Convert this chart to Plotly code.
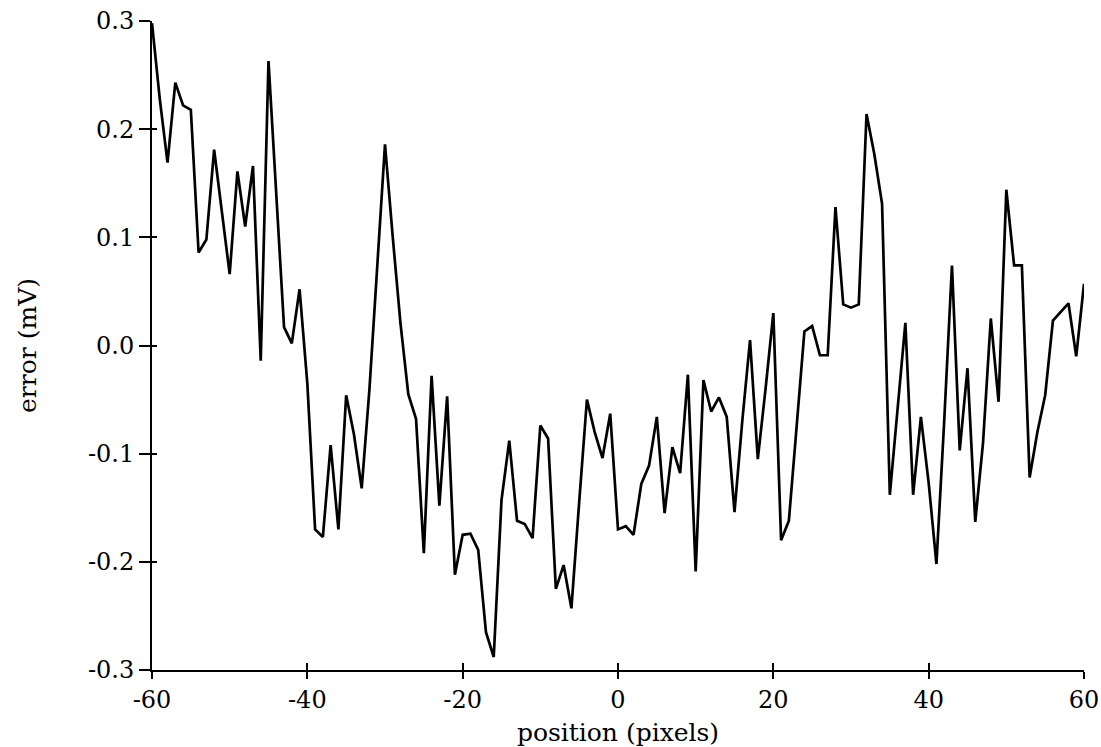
import plotly.graph_objects as go

positions = list(range(-60, 61))
errors = [
    0.298, 0.228, 0.169, 0.243, 0.222, 0.218, 0.086, 0.098, 0.181, 0.125,   # -60..-51
    0.066, 0.161, 0.110, 0.166, -0.014, 0.263, 0.140, 0.017, 0.002, 0.052,  # -50..-41
    -0.035, -0.170, -0.177, -0.092, -0.170, -0.046, -0.082, -0.132, -0.040, 0.075,  # -40..-31
    0.186, 0.100, 0.020, -0.045, -0.068, -0.192, -0.028, -0.148, -0.047, -0.212,  # -30..-21
    -0.175, -0.174, -0.189, -0.265, -0.288, -0.143, -0.088, -0.162, -0.165, -0.178,  # -20..-11
    -0.074, -0.086, -0.225, -0.203, -0.243, -0.145, -0.050, -0.080, -0.104, -0.063,  # -10..-1
    -0.170, -0.167, -0.175, -0.128, -0.111, -0.066, -0.155, -0.094, -0.118, -0.027,  # 0..9
    -0.209, -0.032, -0.061, -0.048, -0.066, -0.154, -0.070, 0.005, -0.105, -0.040,  # 10..19
    0.030, -0.180, -0.162, -0.075, 0.013, 0.018, -0.009, -0.009, 0.128, 0.038,  # 20..29
    0.035, 0.038, 0.214, 0.177, 0.131, -0.138, -0.055, 0.021, -0.138, -0.066,  # 30..39
    -0.127, -0.202, -0.070, 0.074, -0.097, -0.021, -0.163, -0.090, 0.025, -0.052,  # 40..49
    0.144, 0.074, 0.074, -0.122, -0.080, -0.046, 0.023, 0.031, 0.039, -0.010,  # 50..59
    0.057,  # 60
]

x_ticks = [-60, -40, -20, 0, 20, 40, 60]
x_tick_labels = ["-60", "-40", "-20", "0", "20", "40", "60"]
y_ticks = [-0.3, -0.2, -0.1, 0.0, 0.1, 0.2, 0.3]
y_tick_labels = ["-0.3", "-0.2", "-0.1", "0.0", "0.1", "0.2", "0.3"]

FONT = "DejaVu Serif"

fig = go.Figure()
fig.add_trace(go.Scatter(
    x=positions, y=errors, mode="lines",
    line=dict(color="black", width=2.7),
    showlegend=False, hoverinfo="skip",
))
# invisible trace on overlay axes so the inside ticks render
fig.add_trace(go.Scatter(
    x=positions, y=errors, mode="lines", line=dict(color="rgba(0,0,0,0)", width=0),
    xaxis="x2", yaxis="y2", showlegend=False, hoverinfo="skip",
))

fig.update_layout(
    width=1101, height=747,
    margin=dict(l=152, r=17, t=21, b=77),
    paper_bgcolor="white", plot_bgcolor="white",
    font=dict(family=FONT, color="black", size=24),
    xaxis=dict(
        range=[-60, 60], tickvals=x_ticks, ticktext=x_tick_labels, automargin=False,
        showgrid=False, zeroline=False, showline=True, linecolor="black", linewidth=2,
        ticks="outside", ticklen=7, tickwidth=2, tickcolor="black",
        tickfont=dict(family=FONT, size=24),
        title=dict(text="position (pixels)", font=dict(family=FONT, size=25), standoff=16),
    ),
    yaxis=dict(
        range=[-0.3, 0.3], tickvals=y_ticks, ticktext=y_tick_labels, automargin=False,
        showgrid=False, zeroline=False, showline=True, linecolor="black", linewidth=2,
        ticks="outside", ticklen=11, tickwidth=2, tickcolor="black",
        tickfont=dict(family=FONT, size=24),
        title=dict(text="error (mV)", font=dict(family=FONT, size=25), standoff=44),
    ),
    xaxis2=dict(
        range=[-60, 60], tickvals=x_ticks, overlaying="x", anchor="y2", automargin=False,
        showgrid=False, zeroline=False, showline=False, showticklabels=False,
        ticks="inside", ticklen=7, tickwidth=2, tickcolor="black",
    ),
    yaxis2=dict(
        range=[-0.3, 0.3], tickvals=y_ticks, overlaying="y", anchor="x2", side="left",
        automargin=False,
        showgrid=False, zeroline=False, showline=False, showticklabels=False,
        ticks="inside", ticklen=5, tickwidth=2, tickcolor="black",
    ),
)

fig.write_html("out.html")
